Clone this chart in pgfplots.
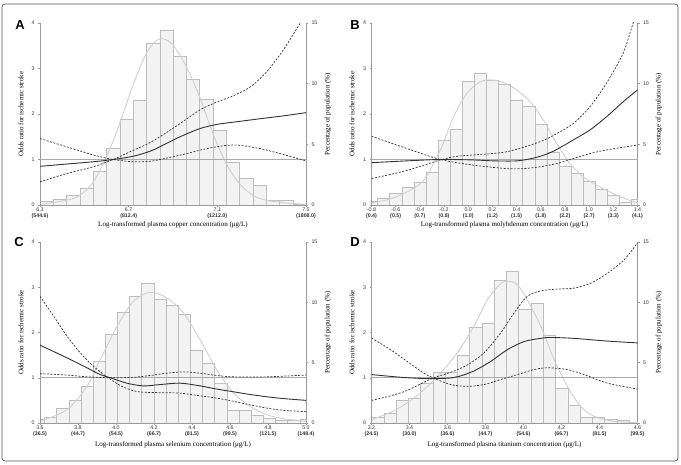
\documentclass[border=0pt]{standalone}
\usepackage{fontspec}
\setmainfont{Liberation Serif}
\setsansfont{Liberation Sans}
\usepackage{pgfplots}
\pgfplotsset{compat=1.18}
\definecolor{barfill}{HTML}{F3F3F3}
\definecolor{baredge}{HTML}{BDBDBD}
\definecolor{denscol}{HTML}{CFCFCF}
\definecolor{axcol}{HTML}{9A9A9A}
\definecolor{refcol}{HTML}{AAAAAA}
\definecolor{linecol}{HTML}{333333}
\definecolor{framecol}{HTML}{555555}
\newcommand\tickfont{\sffamily\fontsize{5.3}{6}\selectfont}
\newcommand\labfont{\rmfamily\fontsize{7}{8}\selectfont}
\pgfplotsset{
  panel/.style={scale only axis, width=266pt, height=181pt, anchor=south west,
    tick align=outside, major tick length=2pt,
    axis line style={axcol, line width=0.5pt},
    tick style={axcol, line width=0.4pt},
    ticklabel style={font=\tickfont, text=linecol},
    /pgf/number format/assume math mode=true},
  orax/.style={panel, ymin=0, ymax=4, ytick={0,1,2,3,4},
    axis y line*=left, axis x line*=bottom,
    xticklabel style={align=center, font=\tickfont, inner sep=0.8pt}},
  pctax/.style={panel, ymin=0, ymax=15, ytick={0,5,10,15},
    axis y line*=right, axis x line=none},
  histbar/.style={ybar interval, fill=barfill, draw=baredge, line width=0.35pt},
  mydens/.style={smooth, denscol, line width=0.9pt, no marks},
  myref/.style={refcol, line width=0.5pt, no marks},
  myci/.style={smooth, linecol, line width=0.7pt, dash pattern=on 2pt off 1.5pt, no marks},
  myest/.style={smooth, linecol, line width=0.9pt, no marks},
}
\begin{document}
\begin{tikzpicture}
\useasboundingbox (0,0) rectangle (681pt,465pt);
\draw[framecol, line width=0.8pt, rounded corners=3pt] (2pt,4pt) rectangle (678pt,461pt);

% ================= Panel A =================
\begin{axis}[pctax, at={(40pt,260pt)}, height=182pt, xmin=6.3, xmax=7.5]
\addplot[histbar] coordinates {(6.30,0.28) (6.36,0.47) (6.42,0.85) (6.48,1.35) (6.54,2.8) (6.60,4.7) (6.66,7.06) (6.72,8.66) (6.78,13.3) (6.84,14.37) (6.90,12.24) (6.96,10.4) (7.02,8.7) (7.08,6.18) (7.14,3.5) (7.20,2.18) (7.26,1.63) (7.32,0.41) (7.38,0.41) (7.44,0.08) (7.50,0.08)};
\addplot[mydens] coordinates {(6.30,0.05) (6.42,0.39) (6.48,0.8) (6.54,1.9) (6.60,3.97) (6.66,6.73) (6.72,9.9) (6.78,12.5) (6.826,13.56) (6.856,13.7) (6.90,13.2) (6.96,11.4) (7.02,8.93) (7.08,5.9) (7.14,3.42) (7.20,1.76) (7.26,0.8) (7.32,0.39) (7.41,0.17) (7.50,0.05)};
\end{axis}
\begin{axis}[orax, at={(40pt,260pt)}, height=182pt, xmin=6.3, xmax=7.5,
  xtick={6.3,6.7,7.1,7.5},
  xticklabels={{6.3\\\textbf{(544.6)}},{6.7\\\textbf{(812.4)}},{7.1\\\textbf{(1212.0)}},{7.5\\\textbf{(1808.0)}}}]
\addplot[myref] coordinates {(6.3,1) (7.5,1)};
\addplot[myci] coordinates {(6.3,0.51) (6.42,0.69) (6.54,0.84) (6.63,1.0) (6.72,1.2) (6.78,1.33) (6.841,1.5) (6.932,1.79) (7.022,2.09) (7.097,2.26) (7.172,2.4) (7.247,2.59) (7.323,2.93) (7.398,3.41) (7.473,3.99) (7.5,4.2)};
\addplot[myci] coordinates {(6.3,1.46) (6.42,1.28) (6.54,1.1) (6.63,1.0) (6.72,0.95) (6.796,0.96) (6.871,1.03) (6.962,1.13) (7.052,1.24) (7.142,1.31) (7.202,1.31) (7.292,1.24) (7.398,1.11) (7.5,0.97)};
\addplot[myest] coordinates {(6.3,0.85) (6.42,0.9) (6.54,0.95) (6.63,1.0) (6.72,1.07) (6.796,1.18) (6.841,1.28) (6.932,1.5) (7.022,1.68) (7.097,1.77) (7.172,1.82) (7.3,1.9) (7.4,1.96) (7.5,2.03)};
\end{axis}

% ================= Panel B =================
\begin{axis}[pctax, at={(371.5pt,260pt)}, height=182pt, xmin=-0.8, xmax=1.4]
\addplot[histbar] coordinates {(-0.8,0.33) (-0.75,0.6) (-0.65,0.94) (-0.55,1.49) (-0.45,1.87) (-0.35,2.67) (-0.25,5.35) (-0.15,6.26) (-0.05,10.23) (0.05,10.9) (0.15,10.3) (0.25,9.95) (0.35,8.6) (0.45,8.16) (0.55,6.67) (0.65,4.38) (0.75,3.2) (0.85,2.59) (0.95,1.96) (1.05,1.32) (1.15,0.85) (1.25,0.22) (1.35,0.44) (1.4,0.44)};
\addplot[mydens] coordinates {(-0.8,0.17) (-0.643,0.5) (-0.506,1.08) (-0.368,2.04) (-0.231,4.52) (-0.121,7.28) (-0.011,9.21) (0.099,10.15) (0.182,10.31) (0.292,10.09) (0.402,9.48) (0.512,8.52) (0.622,7.0) (0.732,5.07) (0.842,3.42) (0.952,2.32) (1.062,1.63) (1.2,0.94) (1.309,0.47) (1.4,0.17)};
\end{axis}
\begin{axis}[orax, at={(371.5pt,260pt)}, height=182pt, xmin=-0.8, xmax=1.4,
  xtick={-0.8,-0.6,-0.4,-0.2,0.0,0.2,0.4,0.6,0.8,1.0,1.2,1.4},
  xticklabels={{-0.8\\\textbf{(0.4)}},{-0.6\\\textbf{(0.5)}},{-0.4\\\textbf{(0.7)}},{-0.2\\\textbf{(0.8)}},{0.0\\\textbf{(1.0)}},{0.2\\\textbf{(1.2)}},{0.4\\\textbf{(1.5)}},{0.6\\\textbf{(1.8)}},{0.8\\\textbf{(2.2)}},{1.0\\\textbf{(2.7)}},{1.2\\\textbf{(3.3)}},{1.4\\\textbf{(4.1)}}}]
\addplot[myref] coordinates {(-0.8,1) (1.4,1)};
\addplot[myci] coordinates {(-0.8,0.58) (-0.506,0.76) (-0.231,0.99) (-0.093,1.07) (0.044,1.1) (0.319,1.17) (0.594,1.39) (0.732,1.57) (0.869,1.79) (1.007,2.16) (1.144,2.68) (1.282,3.34) (1.364,4.0) (1.4,4.2)};
\addplot[myci] coordinates {(-0.8,1.51) (-0.506,1.24) (-0.231,1.0) (0.044,0.875) (0.319,0.8) (0.457,0.8) (0.594,0.84) (0.732,0.91) (0.869,1.02) (1.007,1.13) (1.144,1.21) (1.4,1.32)};
\addplot[myest] coordinates {(-0.8,0.93) (-0.506,0.97) (-0.231,1.0) (0.044,0.99) (0.209,0.97) (0.402,0.97) (0.539,1.03) (0.65,1.12) (0.732,1.22) (0.869,1.43) (1.007,1.65) (1.144,1.94) (1.282,2.27) (1.4,2.53)};
\end{axis}

% ================= Panel C =================
\begin{axis}[pctax, at={(40pt,42pt)}, xmin=3.6, xmax=5.0]
\addplot[histbar] coordinates {(3.6,0.35) (3.623,0.5) (3.687,1.2) (3.751,1.9) (3.815,3.05) (3.879,5.1) (3.943,7.35) (4.007,9.2) (4.071,10.5) (4.135,11.6) (4.199,10.3) (4.263,9.75) (4.327,9.0) (4.391,6.0) (4.455,4.95) (4.519,3.3) (4.583,1.1) (4.647,1.1) (4.711,0.65) (4.775,0.4) (4.839,0.25) (4.903,0.2) (4.967,0.35) (5.0,0.35)};
\addplot[mydens] coordinates {(3.6,0.14) (3.742,1.1) (3.847,3.04) (3.917,5.25) (4.005,8.0) (4.092,10.08) (4.18,10.83) (4.268,10.36) (4.355,9.12) (4.443,6.9) (4.53,4.42) (4.618,2.49) (4.706,1.38) (4.793,0.69) (4.881,0.36) (5.0,0.14)};
\end{axis}
\begin{axis}[orax, at={(40pt,42pt)}, xmin=3.6, xmax=5.0,
  xtick={3.6,3.8,4.0,4.2,4.4,4.6,4.8,5.0},
  xticklabels={{3.6\\\textbf{(36.5)}},{3.8\\\textbf{(44.7)}},{4.0\\\textbf{(54.5)}},{4.2\\\textbf{(66.7)}},{4.4\\\textbf{(81.5)}},{4.6\\\textbf{(99.5)}},{4.8\\\textbf{(121.5)}},{5.0\\\textbf{(148.4)}}}]
\addplot[myref] coordinates {(3.6,1) (5.0,1)};
\addplot[myci] coordinates {(3.6,2.8) (3.672,2.36) (3.742,1.92) (3.812,1.55) (3.882,1.25) (3.952,1.02) (4.022,0.83) (4.092,0.71) (4.145,0.68) (4.233,0.67) (4.338,0.66) (4.443,0.6) (4.53,0.55) (4.618,0.48) (4.706,0.4) (4.793,0.33) (4.881,0.28) (5.0,0.25)};
\addplot[myci] coordinates {(3.6,1.09) (3.742,1.06) (3.847,1.02) (3.97,1.0) (4.092,1.01) (4.18,1.05) (4.268,1.1) (4.355,1.13) (4.443,1.1) (4.53,1.05) (4.618,1.02) (4.793,1.02) (5.0,1.06)};
\addplot[myest] coordinates {(3.6,1.72) (3.742,1.44) (3.847,1.22) (3.917,1.07) (3.97,1.0) (4.057,0.88) (4.145,0.82) (4.233,0.85) (4.338,0.88) (4.443,0.82) (4.53,0.75) (4.618,0.69) (4.706,0.63) (4.793,0.58) (4.881,0.54) (5.0,0.5)};
\end{axis}

% ================= Panel D =================
\begin{axis}[pctax, at={(371.5pt,42pt)}, xmin=3.2, xmax=4.6]
\addplot[histbar] coordinates {(3.2,0.5) (3.265,0.83) (3.3295,1.88) (3.394,2.06) (3.4585,3.3) (3.523,4.2) (3.5875,4.2) (3.652,5.6) (3.7165,7.95) (3.781,8.3) (3.8455,11.8) (3.91,12.6) (3.9745,9.4) (4.039,9.9) (4.1035,7.25) (4.168,2.85) (4.2325,1.5) (4.297,0.5) (4.3615,0.45) (4.426,0.3) (4.4905,0.2) (4.555,0.1) (4.6,0.1)};
\addplot[mydens] coordinates {(3.2,0.28) (3.3,0.88) (3.388,1.66) (3.476,2.76) (3.564,4.14) (3.651,5.8) (3.739,8.01) (3.81,10.22) (3.88,11.55) (3.924,11.74) (3.968,11.46) (4.02,10.22) (4.091,8.01) (4.161,5.25) (4.231,3.04) (4.301,1.38) (4.372,0.55) (4.477,0.14) (4.6,0.03)};
\end{axis}
\begin{axis}[orax, at={(371.5pt,42pt)}, xmin=3.2, xmax=4.6,
  xtick={3.2,3.4,3.6,3.8,4.0,4.2,4.4,4.6},
  xticklabels={{3.2\\\textbf{(24.5)}},{3.4\\\textbf{(30.0)}},{3.6\\\textbf{(36.6)}},{3.8\\\textbf{(44.7)}},{4.0\\\textbf{(54.6)}},{4.2\\\textbf{(66.7)}},{4.4\\\textbf{(81.5)}},{4.6\\\textbf{(99.5)}}}]
\addplot[myref] coordinates {(3.2,1) (4.6,1)};
\addplot[myci] coordinates {(3.2,1.88) (3.3,1.62) (3.388,1.36) (3.476,1.1) (3.528,0.99) (3.616,0.85) (3.704,0.81) (3.792,0.85) (3.88,0.96) (3.968,1.07) (4.055,1.18) (4.126,1.22) (4.231,1.18) (4.319,1.07) (4.442,0.88) (4.6,0.75)};
\addplot[myci] coordinates {(3.2,0.5) (3.3,0.6) (3.388,0.72) (3.476,0.9) (3.528,1.0) (3.616,1.12) (3.704,1.28) (3.792,1.55) (3.88,1.99) (3.95,2.43) (4.02,2.8) (4.091,2.92) (4.178,2.96) (4.266,2.98) (4.354,3.09) (4.442,3.31) (4.53,3.61) (4.6,3.98)};
\addplot[myest] coordinates {(3.2,1.07) (3.3,1.03) (3.388,1.0) (3.5,0.98) (3.6,0.99) (3.66,1.03) (3.739,1.15) (3.827,1.36) (3.915,1.62) (4.003,1.8) (4.09,1.87) (4.14,1.89) (4.266,1.87) (4.442,1.81) (4.6,1.77)};
\end{axis}

% ================= Labels =================
\node[font=\sffamily\bfseries\fontsize{13}{13}\selectfont] at (20pt,440pt) {A};
\node[font=\sffamily\bfseries\fontsize{13}{13}\selectfont] at (355pt,440pt) {B};
\node[font=\sffamily\bfseries\fontsize{13}{13}\selectfont] at (19pt,223pt) {C};
\node[font=\sffamily\bfseries\fontsize{13}{13}\selectfont] at (355pt,223pt) {D};

\node[font=\labfont, rotate=90] at (21pt,351pt) {Odds ratio for ischemic stroke};
\node[font=\labfont, rotate=90] at (328pt,351pt) {Percentage of population (\%)};
\node[font=\labfont, rotate=90] at (352pt,351pt) {Odds ratio for ischemic stroke};
\node[font=\labfont, rotate=90] at (659pt,351pt) {Percentage of population (\%)};
\node[font=\labfont, rotate=90] at (21pt,132.5pt) {Odds ratio for ischemic stroke};
\node[font=\labfont, rotate=90] at (328pt,132.5pt) {Percentage of population (\%)};
\node[font=\labfont, rotate=90] at (352pt,132.5pt) {Odds ratio for ischemic stroke};
\node[font=\labfont, rotate=90] at (659pt,132.5pt) {Percentage of population (\%)};

\node[font=\labfont] at (173pt,240pt) {Log-transformed plasma copper concentration (μg/L)};
\node[font=\labfont] at (504.5pt,240pt) {Log-transformed plasma molybdenum concentration (μg/L)};
\node[font=\labfont] at (173pt,20.5pt) {Log-transformed plasma selenium concentration (μg/L)};
\node[font=\labfont] at (504.5pt,20.5pt) {Log-transformed plasma titanium concentration (μg/L)};
\end{tikzpicture}
\end{document}
